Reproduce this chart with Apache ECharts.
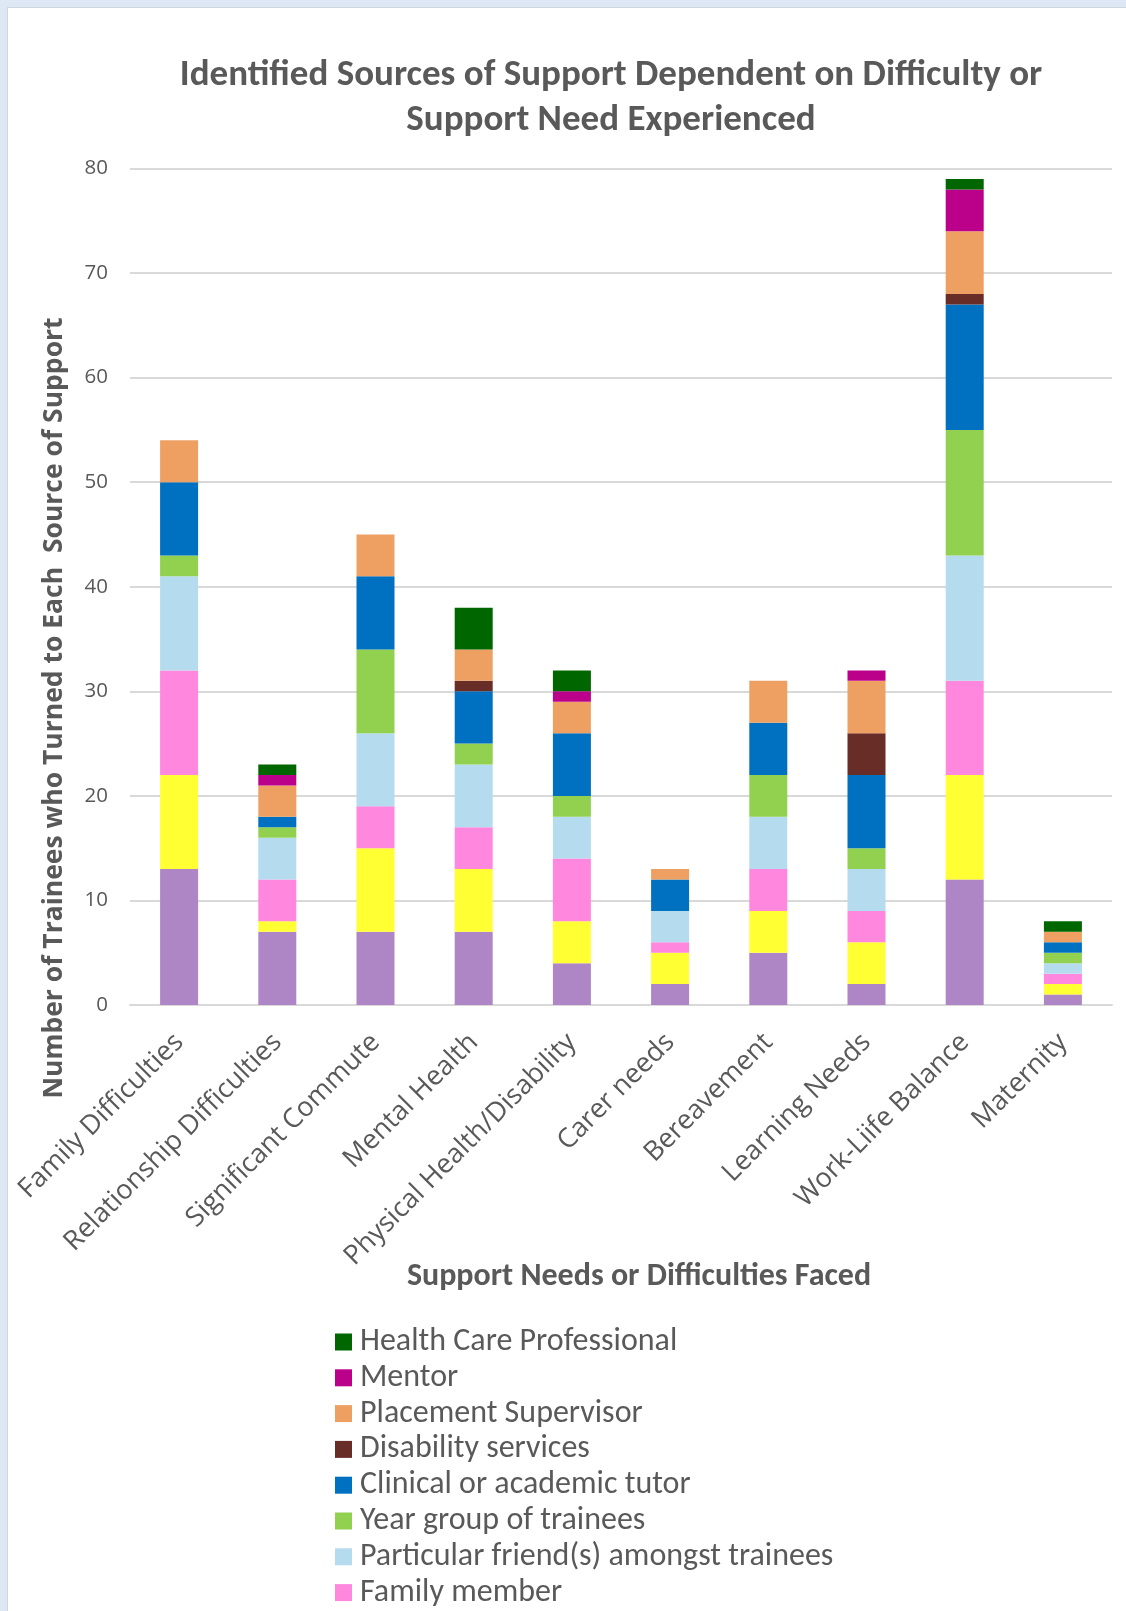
<!DOCTYPE html>
<html>
<head>
<meta charset="utf-8">
<title>Identified Sources of Support</title>
<script src="https://cdn.jsdelivr.net/npm/echarts@6/dist/echarts.min.js"></script>
<style>
  html, body { margin: 0; padding: 0; background: #dde8f4; overflow: hidden; }
  #panel {
    position: absolute; left: 7px; top: 7px; width: 1119px; height: 1604px;
    background: #ffffff; border-left: 1px solid #cfd6de; border-top: 1px solid #cfd6de;
    box-sizing: border-box;
  }
  /* taller than the window so the legend stays a single column */
  #chart { position: absolute; left: 0; top: 0; width: 1126px; height: 1900px; }
</style>
</head>
<body>
<div id="panel"></div>
<div id="chart"></div>
<script>
// Difficulties / support needs (x categories)
const categories = [
  'Family Difficulties', 'Relationship Difficulties', 'Significant Commute',
  'Mental Health', 'Physical Health/Disability', 'Carer needs', 'Bereavement',
  'Learning Needs', 'Work-Liife Balance', 'Maternity'
];

// Counts per source of support, stacked bottom to top
const partner              = [13, 7, 7, 7, 4, 2, 5, 2, 12, 1];
const friendsOutside       = [ 9, 1, 8, 6, 4, 3, 4, 4, 10, 1];
const familyMember         = [10, 4, 4, 4, 6, 1, 4, 3,  9, 1];
const friendsAmongTrainees = [ 9, 4, 7, 6, 4, 3, 5, 4, 12, 1];
const yearGroup            = [ 2, 1, 8, 2, 2, 0, 4, 2, 12, 1];
const tutor                = [ 7, 1, 7, 5, 6, 3, 5, 7, 12, 1];
const disabilityServices   = [ 0, 0, 0, 1, 0, 0, 0, 4,  1, 0];
const placementSupervisor  = [ 4, 3, 4, 3, 3, 1, 4, 5,  6, 1];
const mentor               = [ 0, 1, 0, 0, 1, 0, 0, 1,  4, 0];
const healthProfessional   = [ 0, 1, 0, 4, 2, 0, 0, 0,  1, 1];

const yTicks = { min: 0, max: 80, interval: 10 };

const seriesDefs = [
  { name: 'Partner',                                data: partner,              color: '#ae86c6' },
  { name: 'Friends outside of training',            data: friendsOutside,       color: '#ffff33' },
  { name: 'Family member',                          data: familyMember,         color: '#ff88de' },
  { name: 'Particular friend(s) amongst trainees',  data: friendsAmongTrainees, color: '#b4dcee' },
  { name: 'Year group of trainees',                 data: yearGroup,            color: '#92d050' },
  { name: 'Clinical or academic tutor',             data: tutor,                color: '#0070c0' },
  { name: 'Disability services',                    data: disabilityServices,   color: '#692d27' },
  { name: 'Placement Supervisor',                   data: placementSupervisor,  color: '#eea062' },
  { name: 'Mentor',                                 data: mentor,               color: '#bb008a' },
  { name: 'Health Care Professional',               data: healthProfessional,   color: '#006600' }
];

const legendOrder = [
  'Health Care Professional', 'Mentor', 'Placement Supervisor', 'Disability services',
  'Clinical or academic tutor', 'Year group of trainees',
  'Particular friend(s) amongst trainees', 'Family member'
];

const textGray = '#595959';
const narrowFont = 'Carlito, Lato, "Noto Sans", sans-serif';
const uiFont = '"Open Sans", "Noto Sans", sans-serif';

const chart = echarts.init(document.getElementById('chart'), null, { renderer: 'canvas' });

chart.setOption({
  animation: false,
  backgroundColor: 'transparent',
  grid: { left: 130, width: 982, top: 168.5, height: 836.5, containLabel: false },
  xAxis: {
    type: 'category',
    data: categories,
    axisLine: { show: true, lineStyle: { color: '#d9d9d9', width: 2 } },
    axisTick: { show: false },
    axisLabel: {
      rotate: 45, interval: 0, margin: 33,
      color: textGray, fontFamily: uiFont, fontSize: 27
    }
  },
  yAxis: {
    type: 'value',
    min: yTicks.min, max: yTicks.max, interval: yTicks.interval,
    axisLine: { show: false },
    axisTick: { show: false },
    axisLabel: { color: textGray, fontFamily: uiFont, fontSize: 20.5, margin: 22 },
    splitLine: { lineStyle: { color: '#d9d9d9', width: 2 } }
  },
  legend: {
    orient: 'vertical',
    left: 330, top: 1321,
    data: legendOrder,
    icon: 'rect',
    itemWidth: 17, itemHeight: 17, itemGap: 3.8,
    selectedMode: false,
    textStyle: { color: textGray, fontFamily: narrowFont, fontSize: 32, padding: [0, 0, 0, 3] }
  },
  series: seriesDefs.map(s => ({
    name: s.name,
    type: 'bar',
    stack: 'total',
    barWidth: 38,
    data: s.data,
    itemStyle: { color: s.color },
    emphasis: { disabled: true }
  })),
  graphic: [
    {
      type: 'text', x: 611, y: 76,
      style: {
        text: 'Identified Sources of Support Dependent on Difficulty or',
        fill: textGray, font: 'bold 37px ' + narrowFont,
        textAlign: 'center', textVerticalAlign: 'middle'
      }
    },
    {
      type: 'text', x: 611, y: 121,
      style: {
        text: 'Support Need Experienced',
        fill: textGray, font: 'bold 37px ' + narrowFont,
        textAlign: 'center', textVerticalAlign: 'middle'
      }
    },
    {
      type: 'text', x: 639, y: 1277,
      style: {
        text: 'Support Needs or Difficulties Faced',
        fill: textGray, font: 'bold 32px ' + narrowFont,
        textAlign: 'center', textVerticalAlign: 'middle'
      }
    },
    {
      type: 'text', x: 54, y: 708, rotation: Math.PI / 2,
      style: {
        text: 'Number of Trainees who Turned to Each  Source of Support',
        fill: textGray, font: 'bold 26.5px ' + uiFont,
        textAlign: 'center', textVerticalAlign: 'middle'
      }
    }
  ]
});
</script>
</body>
</html>
